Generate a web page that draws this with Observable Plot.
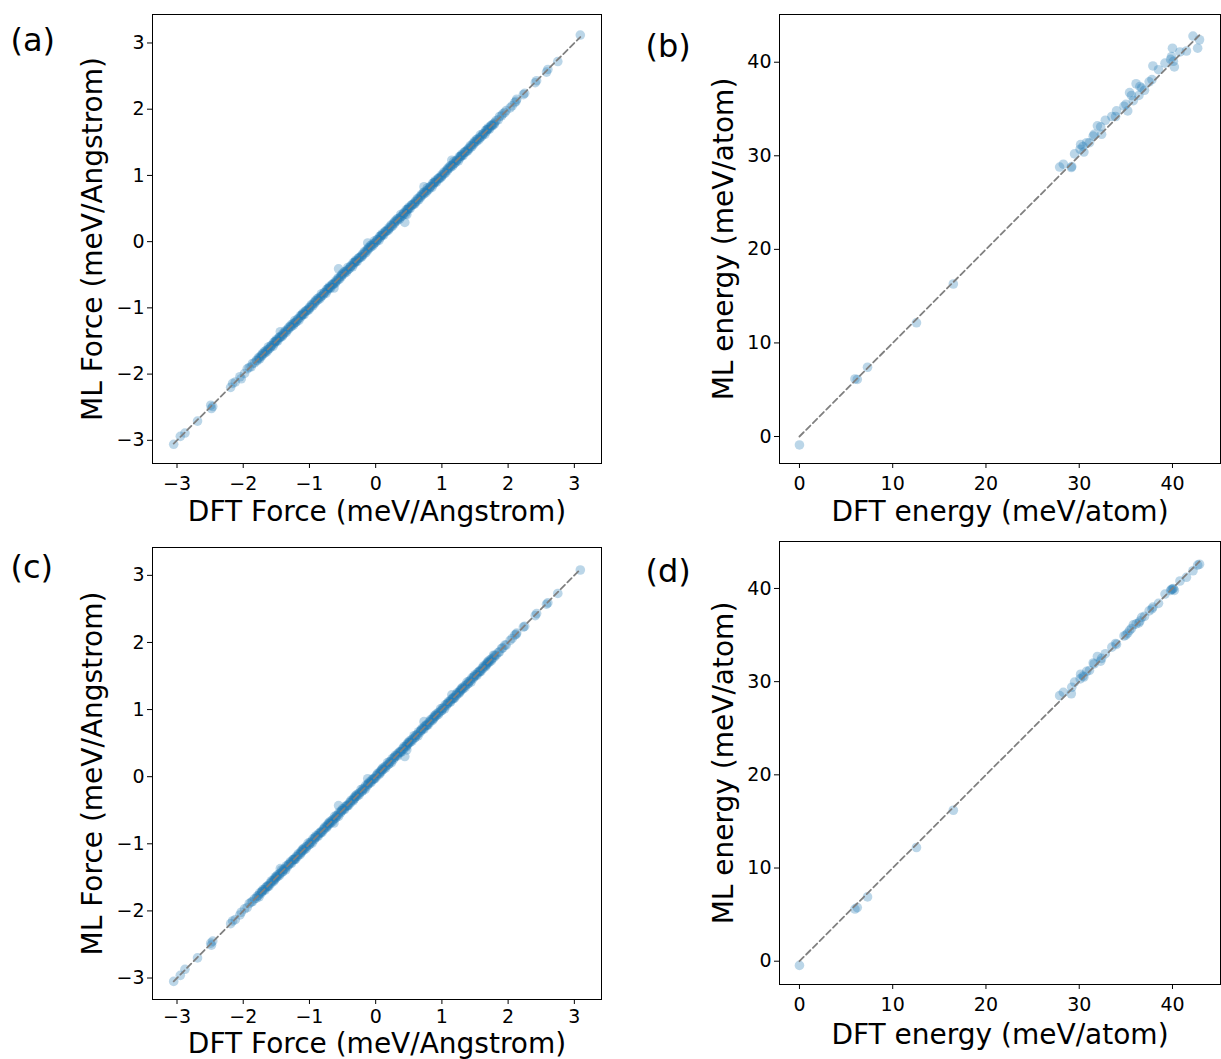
<!DOCTYPE html>
<html>
<head>
<meta charset="utf-8">
<script src="https://cdn.jsdelivr.net/npm/d3@7"></script>
<script src="https://cdn.jsdelivr.net/npm/@observablehq/plot@0.6"></script>
<style>
html, body { margin: 0; padding: 0; background: #ffffff; }
#fig { position: relative; width: 1221px; height: 1059px; background: #ffffff; font-family: "DejaVu Sans", sans-serif; }
#fig > svg { position: absolute; }
</style>
</head>
<body>
<div id="fig"></div>
<script>
// ---------- data ----------
const forceTicks = [-3, -2, -1, 0, 1, 2, 3];
const energyTicks = [0, 10, 20, 30, 40];

const forceXLabel = "DFT Force (meV/Angstrom)";
const forceYLabel = "ML Force (meV/Angstrom)";
const energyXLabel = "DFT energy (meV/atom)";
const energyYLabel = "ML energy (meV/atom)";
const panelTags = ["(a)", "(b)", "(c)", "(d)"];

// DFT force components (shared by panels a and c)
const dftForce = [
  -3.05,-2.95,-2.88,-2.69,-2.49,-2.48,-2.46,-2.19,-2.16,-2.12,-2.05,-2.03,-1.98,-1.94,-1.91,-1.88,-1.86,-1.83,
  -1.80,-1.79,-1.77,-1.76,-1.75,-1.73,-1.72,-1.71,
  -1.70,-1.68,-1.67,-1.66,-1.64,-1.63,-1.62,-1.61,
  -1.59,-1.58,-1.57,-1.55,-1.54,-1.53,-1.52,-1.51,
  -1.50,-1.49,-1.48,-1.46,-1.45,-1.44,-1.42,-1.41,
  -1.40,-1.39,-1.37,-1.36,-1.35,-1.33,-1.32,-1.31,
  -1.29,-1.28,-1.27,-1.25,-1.24,-1.23,-1.22,-1.21,
  -1.20,-1.18,-1.17,-1.16,-1.14,-1.13,-1.12,-1.11,
  -1.10,-1.09,-1.08,-1.06,-1.05,-1.04,-1.02,-1.01,
  -1.00,-0.99,-0.97,-0.96,-0.95,-0.93,-0.92,-0.91,
  -0.90,-0.88,-0.87,-0.86,-0.84,-0.83,-0.82,-0.81,
  -0.79,-0.78,-0.77,-0.75,-0.74,-0.73,-0.72,-0.71,
  -0.70,-0.69,-0.68,-0.66,-0.65,-0.64,-0.62,-0.61,
  -0.60,-0.59,-0.57,-0.56,-0.55,-0.53,-0.52,-0.51,
  -0.50,-0.48,-0.47,-0.46,-0.44,-0.43,-0.42,-0.41,
  -0.39,-0.38,-0.37,-0.35,-0.34,-0.33,-0.32,-0.31,
  -0.30,-0.29,-0.28,-0.26,-0.25,-0.24,-0.22,-0.21,
  -0.20,-0.19,-0.17,-0.16,-0.15,-0.13,-0.12,-0.11,
  -0.10,-0.08,-0.07,-0.06,-0.04,-0.03,-0.02,-0.01,
  0.01,0.02,0.03,0.05,0.06,0.07,0.08,0.09,
  0.10,0.11,0.12,0.14,0.15,0.16,0.18,0.19,
  0.20,0.21,0.23,0.24,0.25,0.27,0.28,0.29,
  0.30,0.32,0.33,0.34,0.36,0.37,0.38,0.39,
  0.41,0.42,0.43,0.45,0.46,0.47,0.48,0.49,
  0.50,0.51,0.52,0.54,0.55,0.56,0.58,0.59,
  0.60,0.61,0.63,0.64,0.65,0.67,0.68,0.69,
  0.70,0.72,0.73,0.74,0.76,0.77,0.78,0.79,
  0.81,0.82,0.83,0.85,0.86,0.87,0.88,0.89,
  0.90,0.91,0.92,0.94,0.95,0.96,0.98,0.99,
  1.00,1.01,1.03,1.04,1.05,1.07,1.08,1.09,
  1.10,1.12,1.13,1.14,1.16,1.17,1.18,1.19,
  1.21,1.22,1.23,1.25,1.26,1.27,1.28,1.29,
  1.30,1.31,1.32,1.34,1.35,1.36,1.38,1.39,
  1.40,1.41,1.43,1.44,1.45,1.47,1.48,1.49,
  1.50,1.52,1.53,1.54,1.56,1.57,1.58,1.59,
  1.61,1.62,1.63,1.65,1.66,1.67,1.68,1.69,
  1.70,1.71,1.72,1.74,1.75,1.76,1.78,1.79,
  1.80,1.82,1.85,1.87,1.90,1.92,1.95,1.97,2.03,2.06,2.10,2.12,2.13,2.23,2.25,2.41,2.43,2.58,2.60,2.75,3.09,
  -1.44,-0.63,-0.56,-0.12,0.44,0.47,0.73,1.15
];

// ML force, model of panel (a)
const mlForceA = [
  -3.06,-2.94,-2.89,-2.71,-2.47,-2.52,-2.49,-2.20,-2.14,-2.12,-2.04,-2.07,-1.99,-1.92,-1.90,-1.89,-1.84,-1.83,
  -1.79,-1.80,-1.75,-1.76,-1.77,-1.72,-1.73,-1.69,
  -1.70,-1.66,-1.68,-1.65,-1.66,-1.63,-1.59,-1.62,
  -1.60,-1.57,-1.57,-1.58,-1.52,-1.54,-1.51,-1.51,
  -1.48,-1.49,-1.50,-1.45,-1.44,-1.45,-1.42,-1.43,
  -1.39,-1.40,-1.35,-1.36,-1.37,-1.32,-1.33,-1.29,
  -1.29,-1.26,-1.28,-1.24,-1.26,-1.23,-1.19,-1.22,
  -1.21,-1.17,-1.17,-1.19,-1.12,-1.14,-1.11,-1.11,
  -1.08,-1.09,-1.10,-1.05,-1.04,-1.05,-1.02,-1.03,
  -0.99,-1.00,-0.95,-0.96,-0.97,-0.92,-0.93,-0.89,
  -0.90,-0.86,-0.88,-0.85,-0.86,-0.83,-0.79,-0.82,
  -0.80,-0.77,-0.77,-0.78,-0.72,-0.74,-0.71,-0.71,
  -0.68,-0.69,-0.70,-0.65,-0.64,-0.65,-0.62,-0.63,
  -0.59,-0.60,-0.55,-0.56,-0.57,-0.52,-0.53,-0.49,
  -0.50,-0.46,-0.48,-0.45,-0.46,-0.43,-0.39,-0.42,
  -0.40,-0.37,-0.37,-0.38,-0.32,-0.34,-0.31,-0.31,
  -0.28,-0.29,-0.30,-0.25,-0.24,-0.25,-0.22,-0.23,
  -0.19,-0.20,-0.15,-0.16,-0.17,-0.12,-0.13,-0.09,
  -0.10,-0.06,-0.08,-0.05,-0.06,-0.03,0.01,-0.02,
  0.00,0.03,0.03,0.02,0.08,0.06,0.09,0.09,
  0.12,0.11,0.10,0.15,0.16,0.15,0.18,0.17,
  0.21,0.20,0.25,0.24,0.23,0.28,0.27,0.31,
  0.30,0.34,0.32,0.35,0.34,0.37,0.41,0.38,
  0.40,0.43,0.43,0.42,0.48,0.46,0.49,0.49,
  0.52,0.51,0.50,0.55,0.56,0.55,0.58,0.57,
  0.61,0.60,0.65,0.64,0.63,0.68,0.67,0.71,
  0.70,0.74,0.72,0.75,0.74,0.77,0.81,0.78,
  0.80,0.83,0.83,0.82,0.88,0.86,0.89,0.89,
  0.92,0.91,0.90,0.95,0.96,0.95,0.98,0.97,
  1.01,1.00,1.05,1.04,1.03,1.08,1.07,1.11,
  1.10,1.14,1.12,1.15,1.14,1.17,1.21,1.18,
  1.20,1.23,1.23,1.22,1.28,1.26,1.29,1.29,
  1.32,1.31,1.30,1.35,1.36,1.35,1.38,1.37,
  1.41,1.40,1.45,1.44,1.43,1.48,1.47,1.51,
  1.50,1.54,1.52,1.55,1.54,1.57,1.61,1.58,
  1.60,1.63,1.63,1.62,1.68,1.66,1.69,1.69,
  1.72,1.71,1.70,1.75,1.76,1.75,1.78,1.77,
  1.80,1.83,1.84,1.89,1.90,1.93,1.95,1.98,2.02,2.05,2.10,2.12,2.15,2.22,2.24,2.40,2.43,2.56,2.60,2.72,3.12,
  -1.36,-0.70,-0.41,-0.02,0.29,0.41,0.83,1.23
];

// ML force, model of panel (c)
const mlForceC = [
  -3.05,-2.96,-2.87,-2.70,-2.48,-2.51,-2.45,-2.19,-2.15,-2.13,-2.06,-2.02,-1.97,-1.95,-1.89,-1.87,-1.86,-1.82,
  -1.81,-1.78,-1.77,-1.79,-1.73,-1.74,-1.71,-1.71,
  -1.68,-1.68,-1.69,-1.65,-1.63,-1.64,-1.62,-1.63,
  -1.58,-1.59,-1.55,-1.55,-1.56,-1.52,-1.53,-1.49,
  -1.50,-1.47,-1.49,-1.45,-1.47,-1.44,-1.39,-1.42,
  -1.41,-1.38,-1.37,-1.39,-1.33,-1.34,-1.31,-1.31,
  -1.27,-1.28,-1.29,-1.24,-1.23,-1.24,-1.22,-1.23,
  -1.19,-1.19,-1.15,-1.16,-1.16,-1.12,-1.13,-1.09,
  -1.10,-1.07,-1.09,-1.05,-1.07,-1.04,-0.99,-1.02,
  -1.01,-0.98,-0.97,-0.99,-0.93,-0.94,-0.91,-0.91,
  -0.88,-0.88,-0.89,-0.85,-0.83,-0.84,-0.82,-0.83,
  -0.78,-0.79,-0.75,-0.75,-0.76,-0.72,-0.73,-0.69,
  -0.70,-0.67,-0.69,-0.65,-0.67,-0.64,-0.59,-0.62,
  -0.61,-0.58,-0.57,-0.59,-0.53,-0.54,-0.51,-0.51,
  -0.48,-0.48,-0.49,-0.45,-0.43,-0.44,-0.42,-0.43,
  -0.38,-0.39,-0.35,-0.35,-0.36,-0.32,-0.33,-0.29,
  -0.30,-0.27,-0.29,-0.25,-0.27,-0.24,-0.19,-0.22,
  -0.21,-0.18,-0.17,-0.19,-0.13,-0.14,-0.11,-0.11,
  -0.08,-0.08,-0.09,-0.05,-0.03,-0.04,-0.02,-0.03,
  0.02,0.01,0.05,0.05,0.04,0.08,0.07,0.11,
  0.10,0.13,0.11,0.15,0.13,0.16,0.21,0.18,
  0.19,0.22,0.23,0.21,0.27,0.26,0.29,0.29,
  0.32,0.32,0.31,0.35,0.37,0.36,0.38,0.37,
  0.42,0.41,0.45,0.45,0.44,0.48,0.47,0.51,
  0.50,0.53,0.51,0.55,0.53,0.56,0.61,0.58,
  0.59,0.62,0.63,0.61,0.67,0.66,0.69,0.69,
  0.72,0.72,0.71,0.75,0.77,0.76,0.78,0.77,
  0.82,0.81,0.85,0.85,0.84,0.88,0.87,0.91,
  0.90,0.93,0.91,0.95,0.93,0.96,1.01,0.98,
  0.99,1.02,1.03,1.01,1.07,1.06,1.09,1.09,
  1.12,1.12,1.11,1.15,1.17,1.16,1.18,1.17,
  1.22,1.21,1.25,1.25,1.24,1.28,1.27,1.31,
  1.30,1.33,1.31,1.35,1.33,1.36,1.41,1.38,
  1.39,1.42,1.43,1.41,1.47,1.46,1.49,1.49,
  1.52,1.52,1.51,1.55,1.57,1.56,1.58,1.57,
  1.62,1.61,1.65,1.65,1.64,1.68,1.67,1.71,
  1.70,1.73,1.71,1.75,1.73,1.76,1.81,1.78,
  1.81,1.81,1.85,1.86,1.91,1.92,1.96,1.96,2.03,2.06,2.11,2.12,2.14,2.23,2.24,2.40,2.43,2.57,2.59,2.73,3.08,
  -1.37,-0.69,-0.43,-0.03,0.30,0.40,0.82,1.22
];

// DFT energies (shared by panels b and d)
const dftEnergy = [0, 5.95, 6.2, 7.3, 12.55, 16.5, 27.9, 28.3, 29.15, 29.2, 29.5, 30.1, 30.15, 30.4, 30.5, 30.8,
  31.1, 31.5, 31.6, 31.95, 32.3, 32.4, 32.8, 33.5, 33.9, 34.0, 34.8, 35.0, 35.2, 35.4, 35.6, 35.8, 36.1, 36.4,
  36.5, 36.7, 37.0, 37.5, 37.8, 37.9, 38.5, 39.2, 39.8, 39.9, 40.0, 40.1, 40.2, 40.8, 41.5, 42.2, 42.7, 42.9];

const mlEnergyB = [-0.9, 6.15, 6.1, 7.4, 12.15, 16.3, 28.8, 29.1, 28.75, 28.85, 30.2, 30.7, 31.2, 31.0, 30.4, 31.4,
  31.4, 32.1, 32.3, 33.2, 33.1, 32.3, 33.8, 34.2, 34.2, 34.8, 35.3, 35.5, 34.8, 36.75, 36.45, 35.9, 37.7, 36.45,
  37.4, 37.25, 37.0, 37.9, 38.15, 39.6, 39.2, 39.9, 40.3, 40.6, 41.5, 40.1, 39.5, 41.1, 41.2, 42.8, 41.5, 42.4];

const mlEnergyD = [-0.45, 5.6, 5.75, 6.9, 12.2, 16.2, 28.5, 28.85, 28.7, 29.4, 29.95, 30.3, 30.8, 30.6, 30.5, 31.1,
  31.2, 32.0, 31.9, 32.7, 32.2, 32.5, 33.0, 33.7, 34.1, 34.0, 34.9, 35.0, 35.2, 35.5, 35.7, 36.1, 36.2, 36.3,
  36.5, 36.9, 37.0, 37.6, 37.8, 38.0, 38.4, 39.4, 39.8, 39.9, 39.9, 40.0, 39.8, 40.8, 41.2, 41.9, 42.5, 42.6];

// ---------- drawing ----------
const FONT = "DejaVu Sans";
const BLUE = "#1f77b4";

function panel(cfg) {
  const pts = cfg.dft.map((d, i) => ({x: d, y: cfg.ml[i]}));
  const ext = d3.extent(cfg.dft);
  const svg = Plot.plot({
    width: cfg.width,
    height: cfg.height,
    marginLeft: cfg.m[0], marginRight: cfg.m[1], marginTop: cfg.m[2], marginBottom: cfg.m[3],
    style: {fontFamily: FONT, fontSize: "19px", color: "black", background: "transparent", overflow: "visible"},
    x: {domain: cfg.xDomain},
    y: {domain: cfg.yDomain},
    marks: [
      Plot.dot(pts, {x: "x", y: "y", r: 4.8, fill: BLUE, fillOpacity: 0.3, stroke: "none"}),
      Plot.line(ext, {x: d => d, y: d => d, stroke: "#808080", strokeWidth: 1.8, strokeDasharray: "6,3.5"}),
      Plot.frame({stroke: "black", strokeWidth: 1}),
      Plot.axisX({ticks: cfg.ticks, tickFormat: "d", tickSize: 5, tickPadding: cfg.xPad, label: null, fontSize: 19}),
      Plot.axisY({ticks: cfg.ticks, tickFormat: "d", tickSize: 5, tickPadding: 3, label: null, fontSize: 19}),
      Plot.text([cfg.xLabel], {text: d => d, frameAnchor: "bottom", dy: cfg.xLabelDy, textAnchor: "middle", lineAnchor: "middle", fontSize: 28, fill: "black"}),
      Plot.text([cfg.yLabel], {text: d => d, frameAnchor: "left", dx: cfg.yLabelDx, rotate: -90, textAnchor: "middle", lineAnchor: "middle", fontSize: 28, fill: "black"}),
      Plot.text([cfg.tag], {text: d => d, frameAnchor: "top-left", dx: cfg.tagDx, dy: cfg.tagDy, textAnchor: "start", lineAnchor: "middle", fontSize: 32, fill: "black"})
    ]
  });
  svg.style.left = cfg.left + "px";
  svg.style.top = cfg.top + "px";
  document.getElementById("fig").appendChild(svg);
}

panel({dft: dftForce, ml: mlForceA, ticks: forceTicks, xLabel: forceXLabel, yLabel: forceYLabel, tag: panelTags[0],
  left: 0, top: 0, width: 610, height: 530, m: [152, 9, 14, 67], xPad: 8,
  xDomain: [-3.37, 3.41], yDomain: [-3.35, 3.43], xLabelDy: 49, yLabelDx: -59, tagDx: -142, tagDy: 26});

panel({dft: dftEnergy, ml: mlEnergyB, ticks: energyTicks, xLabel: energyXLabel, yLabel: energyYLabel, tag: panelTags[1],
  left: 610, top: 0, width: 611, height: 530, m: [169, 1, 14, 67], xPad: 8,
  xDomain: [-2.14, 45.15], yDomain: [-2.885, 45.1], xLabelDy: 49, yLabelDx: -55, tagDx: -134, tagDy: 32});

panel({dft: dftForce, ml: mlForceC, ticks: forceTicks, xLabel: forceXLabel, yLabel: forceYLabel, tag: panelTags[2],
  left: 0, top: 530, width: 610, height: 529, m: [152, 9, 17, 60], xPad: 5,
  xDomain: [-3.37, 3.41], yDomain: [-3.32, 3.415], xLabelDy: 45, yLabelDx: -59, tagDx: -142, tagDy: 20});

panel({dft: dftEnergy, ml: mlEnergyD, ticks: energyTicks, xLabel: energyXLabel, yLabel: energyYLabel, tag: panelTags[3],
  left: 610, top: 530, width: 611, height: 529, m: [169, 1, 11, 75], xPad: 8,
  xDomain: [-2.14, 45.15], yDomain: [-2.5, 45.04], xLabelDy: 51, yLabelDx: -55, tagDx: -134, tagDy: 30});
</script>
</body>
</html>
